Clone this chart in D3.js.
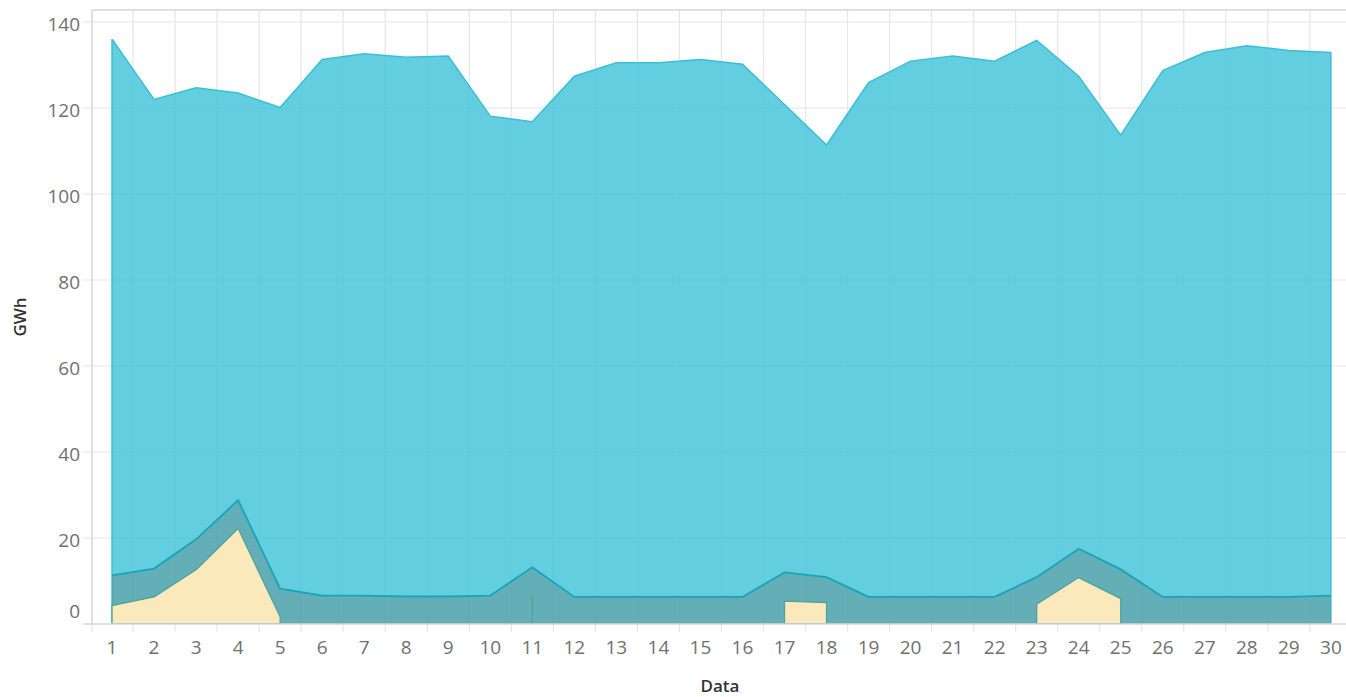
<!DOCTYPE html>
<html>
<head>
<meta charset="utf-8">
<script src="https://cdn.jsdelivr.net/npm/d3@7"></script>
<style>
  html, body { margin: 0; padding: 0; background: #fff; }
  svg { display: block; font-family: "Open Sans", "DejaVu Sans", sans-serif; }
</style>
</head>
<body>
<script>
// days of the month (x categories)
var days = d3.range(1, 31);

// stacked series, bottom to top (GWh). null = no value that day
var serieGialla = [4.3, 6.3, 12.6, 22.2, 1.7, null, null, null, null, null,
  6.6, null, null, null, null, null, 5.3, 5.0, null, null,
  null, null, 4.6, 10.8, 5.9, null, null, null, null, null];
var serieScura = [7.0, 6.6, 7.1, 6.6, 6.5, 6.6, 6.6, 6.4, 6.4, 6.6,
  6.6, 6.3, 6.3, 6.3, 6.3, 6.3, 6.7, 5.9, 6.3, 6.3,
  6.3, 6.3, 6.3, 6.7, 6.8, 6.3, 6.3, 6.3, 6.3, 6.6];
var serieAzzurra = [124.7, 109.1, 105.0, 94.7, 111.9, 124.7, 126.0, 125.4, 125.7, 111.5,
  103.6, 121.1, 124.2, 124.2, 125.0, 123.9, 108.8, 100.5, 119.6, 124.6,
  125.8, 124.6, 124.8, 109.9, 101.0, 122.4, 126.6, 128.2, 127.1, 126.3];

var yTicks = [0, 20, 40, 60, 80, 100, 120, 140];

var W = 1346, H = 697;
var plot = { left: 92, top: 10, right: 1346, bottom: 624 };

var svg = d3.select('body').append('svg')
  .attr('width', W)
  .attr('height', H);

var x = d3.scaleBand()
  .domain(days)
  .range([91, 91 + 30 * 42.03])
  .paddingInner(0);

var y = d3.scaleLinear()
  .domain([0, 140])
  .range([624, 22]);

// centre of a day's band
var cx = function(d) { return x(d) + x.bandwidth() / 2; };
var rx = function(r) { return cx(r.day); };

// stack rows
var rows = days.map(function(d, i) {
  var a = serieGialla[i] || 0;
  var b = a + serieScura[i];
  var c = b + serieAzzurra[i];
  return { day: d, y1: a, y2: b, y3: c, hasA: serieGialla[i] !== null };
});

svg.append('clipPath').attr('id', 'clip')
  .append('rect')
  .attr('x', plot.left).attr('y', plot.top)
  .attr('width', plot.right - plot.left).attr('height', plot.bottom - plot.top);

// grid
var grid = svg.append('g');
grid.selectAll('line.h').data(yTicks.filter(function(t) { return t > 0; }))
  .enter().append('line')
  .attr('x1', 83).attr('x2', plot.right)
  .attr('y1', function(t) { return y(t); })
  .attr('y2', function(t) { return y(t); })
  .attr('stroke', '#e6e6e6').attr('stroke-width', 1.2);

grid.selectAll('line.v').data(days.slice(1))
  .enter().append('line')
  .attr('x1', function(d) { return x(d); })
  .attr('x2', function(d) { return x(d); })
  .attr('y1', plot.top).attr('y2', 632)
  .attr('stroke', '#e6e6e6').attr('stroke-width', 1.2);

// x tick under the left border
grid.append('line')
  .attr('x1', plot.left).attr('x2', plot.left)
  .attr('y1', plot.bottom).attr('y2', 632)
  .attr('stroke', '#e6e6e6').attr('stroke-width', 1.2);

// areas
var areas = svg.append('g').attr('clip-path', 'url(#clip)');

var areaBlue = d3.area()
  .x(rx).y0(function(r) { return y(r.y2); }).y1(function(r) { return y(r.y3); });
var lineBlue = d3.line().x(rx).y(function(r) { return y(r.y3); });

var areaDark = d3.area()
  .x(rx).y0(y(0)).y1(function(r) { return y(r.y2); });
var lineDark = d3.line().x(rx).y(function(r) { return y(r.y2); });

var areaYellow = d3.area()
  .defined(function(r) { return r.hasA; })
  .x(rx).y0(y(0)).y1(function(r) { return y(r.y1); });

areas.append('path')
  .attr('d', areaBlue(rows))
  .attr('fill', '#46c5da').attr('fill-opacity', 0.85);
areas.append('path')
  .attr('d', 'M' + cx(1) + ',' + y(0) + 'L' + cx(1) + ',' + y(rows[0].y3))
  .attr('stroke', '#3bbfd6').attr('stroke-width', 1.5);
areas.append('path')
  .attr('d', 'M' + cx(30) + ',' + y(0) + 'L' + cx(30) + ',' + y(rows[29].y3))
  .attr('stroke', '#3bbfd6').attr('stroke-width', 1.5);
areas.append('path')
  .attr('d', lineBlue(rows))
  .attr('fill', 'none').attr('stroke', '#3bbfd6').attr('stroke-width', 1.5);

areas.append('path')
  .attr('d', areaDark(rows))
  .attr('fill', '#48a0aa').attr('fill-opacity', 0.85);
areas.append('path')
  .attr('d', lineDark(rows))
  .attr('fill', 'none').attr('stroke', '#17a5b8').attr('stroke-width', 1.8);

// yellow sits on top of the dark layer: knock it out first
areas.append('path')
  .attr('d', areaYellow(rows))
  .attr('fill', '#fff').attr('fill-opacity', 0.9);
areas.append('path')
  .attr('d', areaYellow(rows))
  .attr('fill', '#fce5b4').attr('fill-opacity', 0.9)
  .attr('stroke', '#4ea39c').attr('stroke-width', 1.3)
  .attr('stroke-linejoin', 'round');

// border lines
svg.append('line')
  .attr('x1', plot.left).attr('x2', plot.right)
  .attr('y1', plot.top).attr('y2', plot.top)
  .attr('stroke', '#d6d6d6').attr('stroke-width', 1.5);
svg.append('line')
  .attr('x1', plot.left).attr('x2', plot.left)
  .attr('y1', plot.top).attr('y2', plot.bottom)
  .attr('stroke', '#d6d6d6').attr('stroke-width', 1.5);
svg.append('line')
  .attr('x1', 83).attr('x2', plot.right)
  .attr('y1', plot.bottom).attr('y2', plot.bottom)
  .attr('stroke', '#d6d6d6').attr('stroke-width', 1.5);

// y labels
svg.append('g').selectAll('text').data(yTicks)
  .enter().append('text')
  .attr('x', 80)
  .attr('y', function(t) { return t === 0 ? y(t) - 13 : y(t) + 2; })
  .attr('text-anchor', 'end')
  .attr('dominant-baseline', 'central')
  .attr('font-size', 19)
  .attr('fill', '#707070')
  .text(function(t) { return t; });

// x labels
svg.append('g').selectAll('text').data(days)
  .enter().append('text')
  .attr('x', cx)
  .attr('y', 647)
  .attr('text-anchor', 'middle')
  .attr('dominant-baseline', 'central')
  .attr('font-size', 19)
  .attr('fill', '#707070')
  .text(function(d) { return d; });

// axis titles
svg.append('text')
  .attr('x', 720).attr('y', 685)
  .attr('text-anchor', 'middle')
  .attr('dominant-baseline', 'central')
  .attr('font-size', 17)
  .attr('font-weight', 600)
  .attr('fill', '#333')
  .text('Data');

svg.append('text')
  .attr('transform', 'translate(19,317) rotate(-90)')
  .attr('text-anchor', 'middle')
  .attr('dominant-baseline', 'central')
  .attr('font-size', 17)
  .attr('font-weight', 600)
  .attr('fill', '#333')
  .text('GWh');
</script>
</body>
</html>
